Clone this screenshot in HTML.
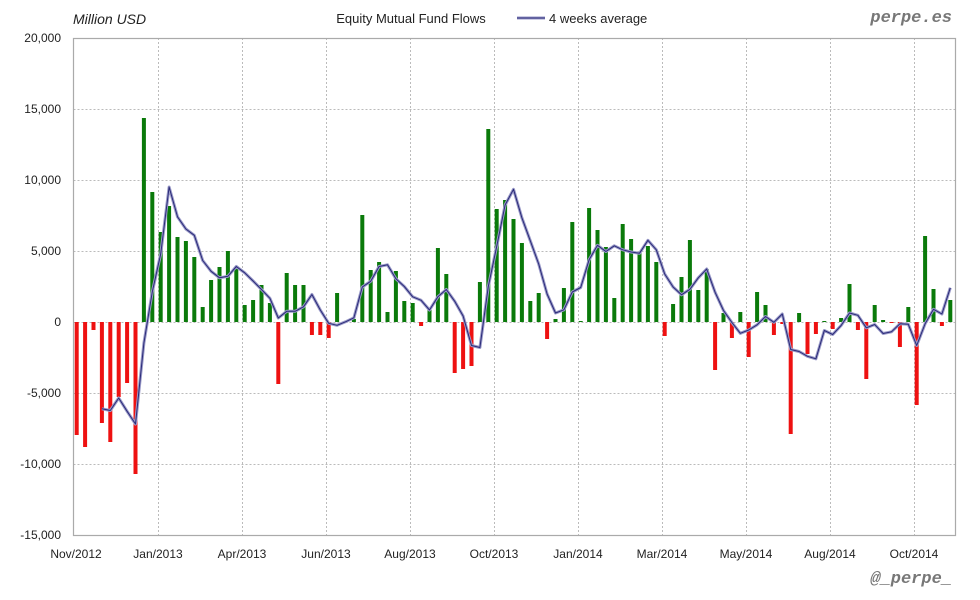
<!DOCTYPE html>
<html><head><meta charset="utf-8"><style>
html,body{margin:0;padding:0;background:#fff;}
svg{display:block;font-family:"Liberation Sans",sans-serif;}
</style></head><body>
<svg id="c" width="980" height="600" xmlns="http://www.w3.org/2000/svg">
<rect width="980" height="600" fill="#fff"/>
<g id="grid"></g>
<g id="bars"></g>
<g id="line"></g>
<rect x="73.5" y="38.5" width="882" height="497" fill="none" stroke="#aaa" stroke-width="1.2"/>
<g font-size="12" fill="#222" text-anchor="end">
<text x="61" y="42">20,000</text><text x="61" y="113">15,000</text><text x="61" y="184">10,000</text>
<text x="61" y="255">5,000</text><text x="61" y="326">0</text><text x="61" y="397">-5,000</text>
<text x="61" y="468">-10,000</text><text x="61" y="539">-15,000</text>
</g>
<g font-size="12" fill="#222" text-anchor="middle">
<text x="76" y="558">Nov/2012</text><text x="158" y="558">Jan/2013</text><text x="242" y="558">Apr/2013</text>
<text x="326" y="558">Jun/2013</text><text x="410" y="558">Aug/2013</text><text x="494" y="558">Oct/2013</text>
<text x="578" y="558">Jan/2014</text><text x="662" y="558">Mar/2014</text><text x="746" y="558">May/2014</text>
<text x="830" y="558">Aug/2014</text><text x="914" y="558">Oct/2014</text>
</g>
<text x="73" y="24" font-size="14" font-style="italic" fill="#222">Million USD</text>
<text x="411" y="23" font-size="13" fill="#222" text-anchor="middle">Equity Mutual Fund Flows</text>
<line x1="517" y1="18" x2="545" y2="18" stroke="#9a9ac8" stroke-width="3"/>
<line x1="517" y1="18" x2="545" y2="18" stroke="#2a2a78" stroke-width="1"/>
<text x="549" y="23" font-size="13" fill="#222">4 weeks average</text>
<text x="952" y="22" font-size="17" font-weight="bold" font-style="italic" fill="#777" text-anchor="end" font-family="Liberation Mono,monospace">perpe.es</text>
<text x="952" y="583" font-size="17" font-weight="bold" font-style="italic" fill="#777" text-anchor="end" font-family="Liberation Mono,monospace">@_perpe_</text>
</svg>
<script>
var NS="http://www.w3.org/2000/svg";
function el(p,t,a){var e=document.createElementNS(NS,t);for(var k in a)e.setAttribute(k,a[k]);document.getElementById(p).appendChild(e);return e;}
[109,180,251,322,393,464].forEach(function(y){el("grid","line",{x1:73.5,x2:955.5,y1:y+0.5,y2:y+0.5,stroke:"#bbb","stroke-dasharray":"2,2"});});
[158,242,326,410,494,578,662,746,830,914].forEach(function(x){el("grid","line",{x1:x+0.5,x2:x+0.5,y1:38,y2:535,stroke:"#bbb","stroke-dasharray":"2,2"});});
var t=[435,447,330,423,442,397,383,474,118,192,232,206,237,241,257,307,280,267,251,268,305,300,285,303,384,273,285,285,335,335,338,293,321,319,215,270,262,312,271,301,303,326,310,248,274,373,369,366,282,129,209,200,219,243,301,293,339,319,288,222,321,208,230,247,298,224,239,252,246,262,336,304,277,240,290,269,370,313,338,312,357,292,305,335,324,434,313,354,334,321,329,318,284,330,379,305,320,323,347,307,405,236,289,326,300];
var Z=322,pts=[];
t.forEach(function(y,i){var x=76.7+8.4*i;var top=Math.min(y,Z),h=Math.abs(y-Z);if(h<1)h=1;
el("bars","rect",{x:x-2,y:top,width:4,height:h,fill:y<=Z?"#0a7a0a":"#ee1111"});
if(i>=3){var a=(t[i]+t[i-1]+t[i-2]+t[i-3])/4;pts.push(x.toFixed(1)+","+a.toFixed(1));}});
el("line","polyline",{points:pts.join(" "),fill:"none",stroke:"#9a9ac8","stroke-width":3,"stroke-linejoin":"round"});
el("line","polyline",{points:pts.join(" "),fill:"none",stroke:"#2a2a78","stroke-width":1,"stroke-linejoin":"round"});
</script>
</body></html>
